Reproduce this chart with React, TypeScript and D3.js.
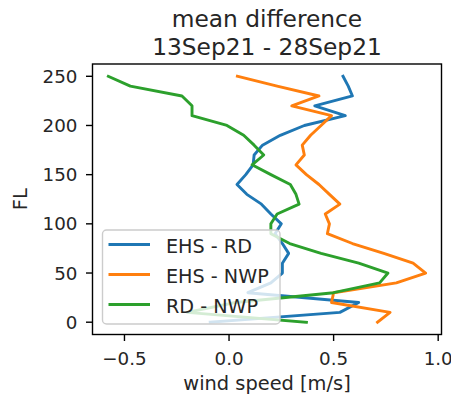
import React from "react";
import * as d3 from "d3";

const W = 451;
const H = 399;
const margin = { left: 92.5, right: 9.5, top: 64, bottom: 64.5 };

// flight levels, bottom to top
const levels = [0, 10, 20, 30, 40, 50, 60, 70, 80, 90, 100, 110, 120, 130, 140, 150, 160, 170, 180, 190, 200, 210, 220, 230, 240, 250];

const ehsRd = [-0.09, 0.53, 0.62, 0.09, 0.2, 0.255, 0.255, 0.285, 0.255, 0.22, 0.25, 0.2, 0.155, 0.085, 0.038, 0.08, 0.115, 0.12, 0.16, 0.245, 0.36, 0.556, 0.41, 0.59, 0.57, 0.545];
const ehsNwp = [0.71, 0.77, 0.49, 0.5, 0.8, 0.94, 0.88, 0.74, 0.59, 0.47, 0.48, 0.46, 0.53, 0.48, 0.43, 0.37, 0.32, 0.36, 0.35, 0.39, 0.44, 0.49, 0.3, 0.43, 0.23, 0.04];
const rdNwp = [0.37, -0.2, 0.03, 0.5, 0.72, 0.76, 0.62, 0.44, 0.29, 0.2, 0.2, 0.23, 0.335, 0.32, 0.293, 0.2, 0.11, 0.166, 0.12, 0.07, -0.01, -0.177, -0.177, -0.225, -0.472, -0.577];

const seriesNames = ["EHS - RD", "EHS - NWP", "RD - NWP"];
const seriesColors = ["#1f77b4", "#ff7f0e", "#2ca02c"];
const xTicks = [-0.5, 0, 0.5, 1.0];
const yTicks = [0, 50, 100, 150, 200, 250];

const titleLines = ["mean difference", "13Sep21 - 28Sep21"];
const xLabel = "wind speed [m/s]";
const yLabel = "FL";

const font = "DejaVu Sans, sans-serif";

export default function App() {
  const all = [...ehsRd, ...ehsNwp, ...rdNwp];
  const [xmin, xmax] = d3.extent(all) as [number, number];
  const xpad = (xmax - xmin) * 0.05;
  const ypad = (250 - 0) * 0.05;

  const x = d3
    .scaleLinear()
    .domain([xmin - xpad, xmax + xpad])
    .range([margin.left, W - margin.right]);
  const y = d3
    .scaleLinear()
    .domain([0 - ypad, 250 + ypad])
    .range([H - margin.bottom, margin.top]);

  const series = [ehsRd, ehsNwp, rdNwp];
  const line = d3
    .line<number>()
    .x(d => x(d))
    .y((d, i) => y(levels[i]));

  const fmt = d3.format(".1f");
  const x0 = margin.left;
  const x1 = W - margin.right;
  const y0 = H - margin.bottom;
  const y1 = margin.top;

  // legend box
  const lg = { x: 102.5, y: 230, w: 177.5, h: 94 };
  const rowY = [244.5, 274.5, 304.5];

  return (
    <svg width={W} height={H} style={{ position: "absolute", left: 0, top: 0 }} fontFamily={font}>
      <rect width={W} height={H} fill="white" />
      {series.map((s, i) => (
        <path
          key={i}
          d={line(s) || ""}
          fill="none"
          stroke={seriesColors[i]}
          strokeWidth={2.9}
          strokeLinejoin="round"
          strokeLinecap="square"
        />
      ))}
      <rect x={x0} y={y1} width={x1 - x0} height={y0 - y1} fill="none" stroke="#000" strokeWidth={1.4} />
      {xTicks.map(t => (
        <g key={t}>
          <line x1={x(t)} x2={x(t)} y1={y0} y2={y0 + 6.5} stroke="#000" strokeWidth={1.4} />
          <text x={x(t)} y={365} textAnchor="middle" fontSize={18.3} fill="#262626">
            {fmt(t)}
          </text>
        </g>
      ))}
      {yTicks.map(t => (
        <g key={t}>
          <line x1={x0 - 6.5} x2={x0} y1={y(t)} y2={y(t)} stroke="#000" strokeWidth={1.4} />
          <text x={77.5} y={y(t) + 6.5} textAnchor="end" fontSize={18.3} fill="#262626">
            {t}
          </text>
        </g>
      ))}
      <text x={(x0 + x1) / 2} y={390} textAnchor="middle" fontSize={19.4} fill="#262626">
        {xLabel}
      </text>
      <text
        transform={`translate(27,${(y0 + y1) / 2}) rotate(-90)`}
        textAnchor="middle"
        fontSize={19.4}
        fill="#262626"
      >
        {yLabel}
      </text>
      {titleLines.map((t, i) => (
        <text key={i} x={(x0 + x1) / 2} y={26.5 + i * 28} textAnchor="middle" fontSize={23.3} fill="#262626">
          {t}
        </text>
      ))}
      <rect
        x={lg.x}
        y={lg.y}
        width={lg.w}
        height={lg.h}
        rx={4}
        fill="white"
        fillOpacity={0.8}
        stroke="#cccccc"
        strokeWidth={1.4}
      />
      {seriesNames.map((n, i) => (
        <g key={n}>
          <line x1={108.5} x2={150} y1={rowY[i]} y2={rowY[i]} stroke={seriesColors[i]} strokeWidth={2.9} />
          <text x={166} y={rowY[i] + 8.5} fontSize={19.2} fill="#262626">
            {n}
          </text>
        </g>
      ))}
    </svg>
  );
}
